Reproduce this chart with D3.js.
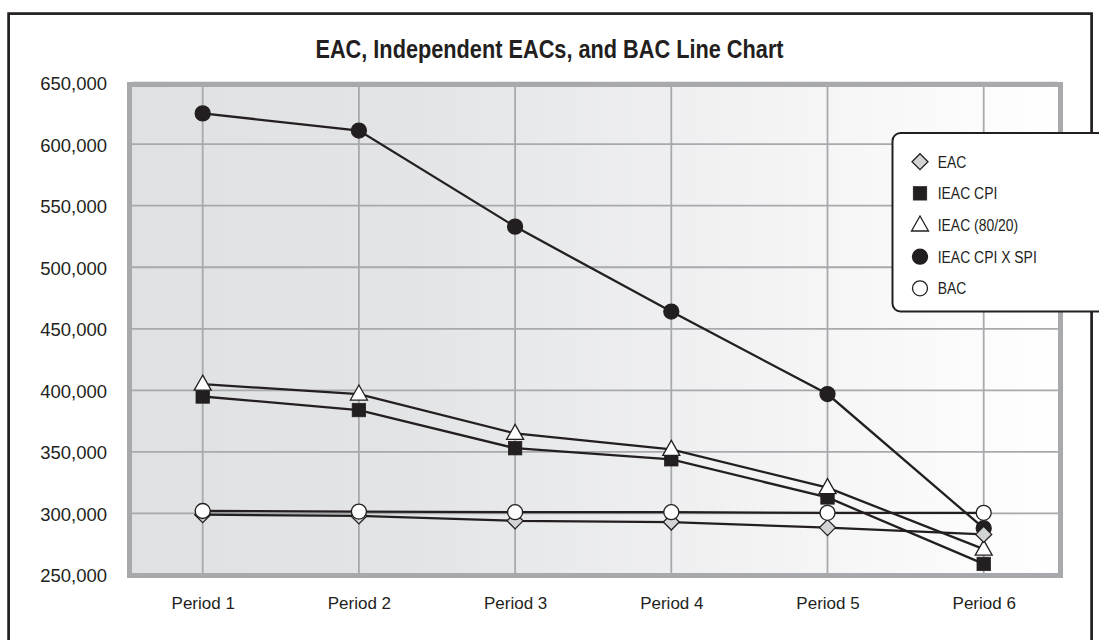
<!DOCTYPE html>
<html>
<head>
<meta charset="utf-8">
<script src="https://cdn.jsdelivr.net/npm/d3@7"></script>
<style>
  html, body { margin: 0; padding: 0; background: #fff; }
  svg { display: block; }
</style>
</head>
<body>
<svg id="chart" width="1099" height="640"></svg>
<script>
// Categories and series
const periods = ["Period 1", "Period 2", "Period 3", "Period 4", "Period 5", "Period 6"];
const eac        = [299000, 298000, 294000, 293000, 288500, 283000];
const ieacCpi    = [395000, 384000, 353000, 344000, 313000, 259000];
const ieac8020   = [405000, 397000, 365000, 352000, 321000, 271000];
const ieacCpiSpi = [625000, 611000, 533000, 464000, 397000, 288000];
const bac        = [302000, 301500, 301000, 301000, 300500, 300500];
const yTicks = [250000, 300000, 350000, 400000, 450000, 500000, 550000, 600000, 650000];

const INK = "#231f20";
const GRID = "#a7a9ac";
const SANS = "'Liberation Sans', Arial, sans-serif";
const NARROW = 0.82; // horizontal squeeze for the condensed lettering

const series = [
  { name: "IEAC CPI X SPI", values: ieacCpiSpi, shape: "circle",   fill: INK },
  { name: "IEAC CPI",       values: ieacCpi,    shape: "square",   fill: INK },
  { name: "IEAC (80/20)",   values: ieac8020,   shape: "triangle", fill: "#ffffff" },
  { name: "EAC",            values: eac,        shape: "diamond",  fill: "#d1d3d4" },
  { name: "BAC",            values: bac,        shape: "circle",   fill: "#ffffff" }
];
const legendOrder = ["EAC", "IEAC CPI", "IEAC (80/20)", "IEAC CPI X SPI", "BAC"];

const svg = d3.select("#chart");

// Outer frame
svg.append("rect")
  .attr("x", 8.6).attr("y", 13.6)
  .attr("width", 1083).attr("height", 660)
  .attr("fill", "none").attr("stroke", INK).attr("stroke-width", 2.7);

// Title (condensed bold)
svg.append("g")
  .attr("transform", `translate(549.5,57.5) scale(${NARROW},1)`)
  .append("text")
  .attr("text-anchor", "middle")
  .style("font-family", SANS)
  .style("font-weight", "bold")
  .style("font-size", "26.5px")
  .attr("fill", INK)
  .text("EAC, Independent EACs, and BAC Line Chart");

// Scales
const x = d3.scalePoint().domain(periods).range([202.7, 983.7]);
const y = d3.scaleLinear().domain([250000, 650000]).range([575, 82.6]);

// Plot background with horizontal fade
const defs = svg.append("defs");
const grad = defs.append("linearGradient").attr("id", "plotBg")
  .attr("x1", "0%").attr("x2", "100%").attr("y1", "0%").attr("y2", "0%");
grad.append("stop").attr("offset", "0%").attr("stop-color", "#e0e1e3");
grad.append("stop").attr("offset", "30%").attr("stop-color", "#e3e4e6");
grad.append("stop").attr("offset", "100%").attr("stop-color", "#ffffff");

const inner = { x0: 132, x1: 1058, y0: 87, y1: 573 };
svg.append("rect")
  .attr("x", inner.x0).attr("y", inner.y0)
  .attr("width", inner.x1 - inner.x0).attr("height", inner.y1 - inner.y0)
  .attr("fill", "url(#plotBg)");

// Gridlines
const grid = svg.append("g");
grid.selectAll("line.h").data(yTicks).join("line")
  .attr("class", "h")
  .attr("x1", inner.x0).attr("x2", inner.x1)
  .attr("y1", d => y(d)).attr("y2", d => y(d))
  .attr("stroke", GRID).attr("stroke-width", 1.8);
grid.selectAll("line.v").data(periods).join("line")
  .attr("class", "v")
  .attr("x1", d => x(d)).attr("x2", d => x(d))
  .attr("y1", inner.y0).attr("y2", inner.y1)
  .attr("stroke", GRID).attr("stroke-width", 1.8);

// Plot frame
svg.append("rect")
  .attr("x", 129.5).attr("y", 84.5)
  .attr("width", 931).attr("height", 491)
  .attr("fill", "none").attr("stroke", GRID).attr("stroke-width", 5);

// Y axis labels
const yAxis = d3.axisLeft(y).tickValues(yTicks).tickSize(0).tickPadding(0)
  .tickFormat(d3.format(","));
const yg = svg.append("g").attr("transform", "translate(107,1)").call(yAxis);
yg.select(".domain").remove();
yg.selectAll("text")
  .style("font-family", SANS)
  .style("font-size", "18.5px")
  .attr("fill", INK);

// X axis labels
const xAxis = d3.axisBottom(x).tickSize(0).tickPadding(0);
const xg = svg.append("g").attr("transform", "translate(0,597)").call(xAxis);
xg.select(".domain").remove();
xg.selectAll("text")
  .style("font-family", SANS)
  .style("font-size", "17px")
  .attr("fill", INK);

// Marker drawing
function marker(sel, shape, fill) {
  if (shape === "circle") {
    sel.append("circle").attr("r", 7.5)
      .attr("fill", fill).attr("stroke", INK).attr("stroke-width", 1.3);
  } else if (shape === "square") {
    sel.append("rect").attr("x", -6.7).attr("y", -6.7).attr("width", 13.4).attr("height", 13.4)
      .attr("fill", fill).attr("stroke", INK).attr("stroke-width", 0.8);
  } else if (shape === "triangle") {
    sel.append("path").attr("d", "M0,-9 L8.5,6 L-8.5,6 Z")
      .attr("fill", fill).attr("stroke", INK).attr("stroke-width", 1.3).attr("stroke-linejoin", "miter");
  } else if (shape === "diamond") {
    sel.append("path").attr("d", "M0,-8 L8,0 L0,8 L-8,0 Z")
      .attr("fill", fill).attr("stroke", INK).attr("stroke-width", 1.3);
  }
}

const line = d3.line().x((d, i) => x(periods[i])).y(d => y(d));

const plot = svg.append("g");
series.forEach(s => {
  const g = plot.append("g");
  g.append("path").datum(s.values)
    .attr("d", line)
    .attr("fill", "none").attr("stroke", INK).attr("stroke-width", 2.3);
  g.selectAll("g.pt").data(s.values).join("g")
    .attr("class", "pt")
    .attr("transform", (d, i) => `translate(${x(periods[i])},${y(d)})`)
    .each(function () { marker(d3.select(this), s.shape, s.fill); });
});

// Legend
const legend = svg.append("g");
legend.append("rect")
  .attr("x", 892.5).attr("y", 133)
  .attr("width", 240).attr("height", 178.5)
  .attr("rx", 8).attr("ry", 8)
  .attr("fill", "#ffffff").attr("stroke", INK).attr("stroke-width", 2);

const legendItems = legendOrder.map(n => series.find(s => s.name === n));
const li = legend.selectAll("g.item").data(legendItems).join("g")
  .attr("class", "item")
  .attr("transform", (d, i) => `translate(920,${161.7 + i * 31.65})`);
li.each(function (d) { marker(d3.select(this), d.shape, d.fill); });
li.append("g")
  .attr("transform", `translate(17.7,0) scale(${NARROW},1)`)
  .append("text")
  .attr("dy", "0.36em")
  .style("font-family", SANS)
  .style("font-size", "17px")
  .attr("fill", INK)
  .text(d => d.name);
</script>
</body>
</html>
